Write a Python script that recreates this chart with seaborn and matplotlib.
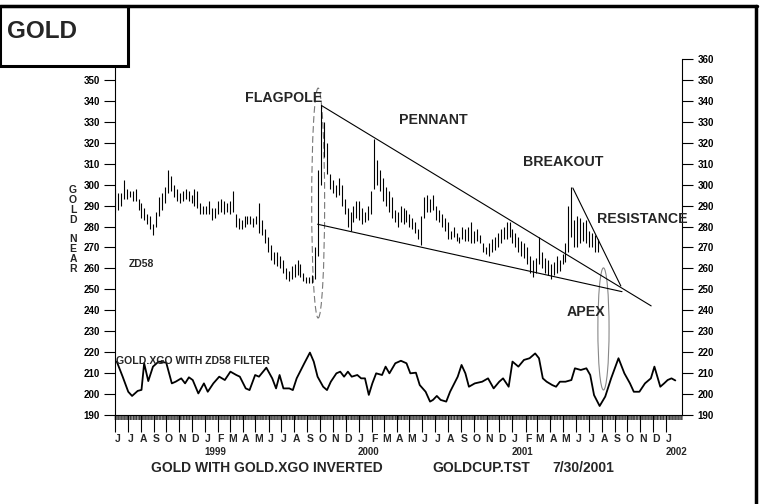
import numpy as np
import pandas as pd
import matplotlib
matplotlib.use("Agg")
import matplotlib.pyplot as plt
import matplotlib.patches as patches
import matplotlib.transforms as mtransforms
from matplotlib.lines import Line2D
import seaborn as sns

base = pd.Timestamp("1998-06-01")

# weekly high / low of gold near futures, week 0 = week of 1 June 1998
gold_high = [298, 296, 296, 302, 298, 297, 297, 298, 293, 291,
             289, 286, 285, 281, 287, 294, 296, 299, 307, 304,
             300, 298, 296, 297, 298, 297, 295, 298, 297, 291,
             290, 290, 292, 289, 289, 292, 293, 292, 291, 292,
             297, 286, 284, 283, 285, 285, 285, 284, 285, 291,
             283, 279, 275, 271, 268, 268, 266, 264, 260, 259,
             261, 262, 264, 262, 258, 256, 256, 257, 270, 307,
             338, 330, 320, 305, 302, 300, 303, 300, 293, 289,
             287, 290, 292, 292, 289, 287, 290, 297, 322, 312,
             307, 303, 299, 297, 294, 288, 287, 290, 289, 288,
             286, 284, 282, 279, 285, 294, 295, 293, 295, 290,
             288, 286, 284, 282, 278, 280, 277, 275, 280, 279,
             280, 282, 278, 279, 276, 272, 270, 272, 274, 275,
             277, 279, 280, 282, 282, 279, 277, 275, 273, 272,
             270, 266, 264, 265, 275, 268, 265, 264, 262, 263,
             266, 264, 267, 272, 290, 299, 283, 285, 284, 282,
             283, 278, 277, 276, 274]
gold_low = [287, 288, 290, 293, 293, 294, 292, 292, 288, 284,
            283, 281, 279, 276, 280, 285, 288, 291, 296, 297,
            294, 292, 291, 292, 293, 292, 291, 290, 289, 286,
            286, 286, 286, 283, 284, 286, 287, 286, 287, 286,
            287, 280, 279, 279, 280, 281, 281, 280, 281, 277,
            276, 272, 268, 264, 262, 261, 260, 258, 255, 254,
            255, 256, 257, 256, 254, 253, 253, 253, 255, 266,
            300, 313, 305, 298, 296, 294, 295, 290, 286, 280,
            278, 282, 284, 283, 281, 282, 283, 286, 298, 300,
            297, 292, 290, 287, 284, 282, 280, 282, 281, 282,
            280, 279, 277, 274, 271, 284, 287, 287, 288, 283,
            282, 280, 278, 274, 274, 275, 273, 272, 274, 273,
            273, 272, 272, 273, 272, 268, 267, 266, 268, 269,
            270, 272, 274, 274, 275, 272, 270, 268, 266, 265,
            262, 258, 256, 258, 262, 260, 258, 257, 255, 257,
            258, 259, 262, 263, 268, 275, 270, 270, 272, 273,
            272, 270, 270, 268, 268]

# GOLD.XGO with ZD58 filter (weeks since 1 June 1998, value)
osc_week = [0.6, 2.6, 4.5, 5.8, 7.7, 9.0, 9.9, 11.3, 12.9, 14.8, 17.4, 19.3, 20.6,
            22.5, 23.8, 25.1, 26.4, 28.3, 30.2, 31.5, 33.4, 35.4, 37.3, 39.2, 41.2,
            42.4, 44.4, 45.7, 47.6, 48.9, 51.4, 53.4, 54.7, 55.9, 57.2, 59.2, 60.4,
            61.7, 64.3, 66.2, 67.5, 68.8, 70.7, 72.0, 73.3, 75.2, 76.5, 77.8, 79.1,
            80.4, 82.3, 83.6, 84.9, 86.2, 87.4, 88.7, 90.7, 91.9, 93.2, 95.2, 97.1,
            99.0, 100.3, 102.2, 103.5, 105.5, 107.0, 108.0, 109.3, 110.6, 112.5,
            113.8, 116.4, 117.7, 119.0, 120.2, 122.2, 124.7, 126.7, 128.6, 130.5,
            131.8, 133.7, 135.0, 137.0, 138.9, 140.8, 142.7, 144.0, 145.3, 146.6,
            148.5, 149.8, 151.1, 153.0, 155.0, 156.2, 158.2, 160.1, 161.4, 162.7,
            164.6, 166.5, 168.5, 171.0, 173.0, 174.9, 176.2, 178.1, 180.0, 182.0,
            183.2, 185.2, 186.5, 187.7, 189.0, 190.3]
osc_val = [215.5, 208.3, 201.1, 199.1, 201.5, 202.0, 214.7, 206.2, 213.1, 215.5, 215.0,
           205.1, 205.9, 207.5, 205.1, 208.0, 206.7, 200.3, 205.1, 201.1, 205.1, 208.3,
           206.7, 210.7, 209.1, 208.3, 202.7, 201.9, 209.1, 208.3, 212.6, 207.5, 202.7,
           209.1, 202.7, 202.7, 201.9, 207.5, 214.7, 219.8, 215.5, 208.3, 203.5, 201.9,
           205.9, 209.9, 210.7, 208.3, 210.7, 208.3, 209.1, 207.5, 207.5, 199.6, 205.1,
           209.9, 209.1, 213.1, 209.9, 214.7, 215.9, 214.7, 209.9, 210.2, 204.3, 201.1,
           196.4, 197.2, 199.1, 197.2, 196.4, 201.1, 208.3, 213.9, 209.9, 203.5, 205.1,
           205.9, 207.5, 202.7, 205.9, 207.5, 203.5, 215.5, 213.1, 216.3, 217.1, 219.4,
           217.1, 207.5, 205.9, 204.3, 203.5, 205.9, 205.9, 206.7, 212.3, 211.5, 212.3,
           209.1, 199.5, 194.3, 198.8, 207.5, 217.1, 209.9, 205.1, 201.1, 201.1, 205.1,
           207.5, 213.1, 203.5, 205.1, 206.7, 207.5, 206.5]

# trend lines: (weeks, prices)
upper_wk, upper_px = [70.1, 182.1], [337.8, 242.1]
lower_wk, lower_px = [68.8, 172.2], [281.1, 248.9]
resist_wk, resist_px = [155.5, 171.8], [298.4, 251.6]

month_letters = ["J", "F", "M", "A", "M", "J", "J", "A", "S", "O", "N", "D"]
years = [1999, 2000, 2001, 2002]


def wk(d):
    return (pd.Timestamp(d) - base).days / 7


def fx(x):
    return x / 760


def fy(y):
    return 1 - y / 504


sns.set_style("ticks")
plt.rcParams['font.family'] = ['Liberation Sans', 'DejaVu Sans']
plt.rcParams['font.weight'] = 'bold'

fig = plt.figure(figsize=(7.6, 5.04), dpi=100)
ax = fig.add_axes([fx(115), fy(415), fx(682) - fx(115), fy(59) - fy(415)])

# price bars
ax.vlines(np.arange(len(gold_high)), gold_low, gold_high, color='black', lw=0.8)

# oscillator
osc = pd.DataFrame({"week": osc_week, "val": osc_val})
sns.lineplot(data=osc, x="week", y="val", color='black', lw=1.3, ax=ax)

# pennant and resistance lines
ax.plot(upper_wk, upper_px, color='black', lw=0.8)
ax.plot(lower_wk, lower_px, color='black', lw=0.8)
ax.plot(resist_wk, resist_px, color='black', lw=0.8)

# ellipses
ax.add_patch(patches.Ellipse((69.0, 291.2), 4.4, 109.8, fill=False, ec='#777777',
                             lw=0.8, ls=(0, (6, 3))))
ax.add_patch(patches.Ellipse((165.9, 231.1), 3.8, 58.3, fill=False, ec='#888888', lw=0.8))

ax.set_xlim(0, 190.3)
ax.set_ylim(190, 360)
ax.set_xlabel("")
ax.set_ylabel("")
ax.set_yticks(range(190, 361, 10))
ax.tick_params(axis='y', which='major', direction='out', length=8, width=0.8,
               labelsize=7, left=True, right=True, labelleft=True, labelright=True,
               pad=3, colors='black')

months = pd.date_range("1998-06-01", "2002-01-01", freq="MS")
ax.set_xticks([wk(d) for d in months])
ax.set_xticks([wk(d) for d in pd.bdate_range("1998-06-01", "2002-02-08")], minor=True)
ax.tick_params(axis='x', which='major', direction='out', length=12, width=0.8,
               labelbottom=False, colors='black')
ax.tick_params(axis='x', which='minor', direction='out', length=3.6, width=0.35,
               colors='black')

blend = mtransforms.blended_transform_factory(ax.transData, ax.transAxes)
for d in months:
    ax.text(wk(d) + 0.9, -0.067, month_letters[d.month - 1], transform=blend,
            ha='center', va='center', fontsize=7.5)
for y in years:
    ax.text(wk(f"{y}-01-01") + 3.5, -0.104, str(y), transform=blend,
            ha='center', va='center', fontsize=7)

for side in ['left', 'right', 'bottom']:
    ax.spines[side].set_color('black')
    ax.spines[side].set_linewidth(0.8)
ax.spines['top'].set_visible(False)

# annotations
ax.text(44.0, 341.6, "FLAGPOLE", fontsize=10.2, va='center')
ax.text(96.5, 330.9, "PENNANT", fontsize=10.2, va='center')
ax.text(138.5, 311.0, "BREAKOUT", fontsize=10.2, va='center')
ax.text(163.7, 283.6, "RESISTANCE", fontsize=10.2, va='center', clip_on=False)
ax.text(153.4, 239.4, "APEX", fontsize=10.2, va='center')
ax.text(4.7, 262.1, "ZD58", fontsize=7.5, va='center')
ax.text(0.3, 215.8, "GOLD.XGO WITH ZD58 FILTER", fontsize=7.6, va='center')

fig.text(fx(73), fy(229.5), "G\nO\nL\nD\n\nN\nE\nA\nR", fontsize=7.5,
         ha='center', va='center', linespacing=0.98)

fig.text(fx(151), fy(468), "GOLD WITH GOLD.XGO INVERTED", fontsize=10, va='center')
fig.text(fx(432), fy(468), "GOLDCUP.TST", fontsize=10, va='center')
fig.text(fx(552), fy(468), "7/30/2001", fontsize=10, va='center')

# title box and frame
box = patches.Rectangle((fx(0), fy(66)), fx(128), fy(6) - fy(66), transform=fig.transFigure,
                        facecolor='white', edgecolor='black', lw=2.2, zorder=5)
fig.add_artist(box)
fig.text(fx(7), fy(31), "GOLD", fontsize=17.5, va='center', zorder=6)
fig.add_artist(Line2D([fx(0), fx(757)], [fy(6), fy(6)], color='black', lw=2.5,
                      transform=fig.transFigure, zorder=6))
fig.add_artist(Line2D([fx(756), fx(756)], [fy(6), fy(504)], color='black', lw=2.5,
                      transform=fig.transFigure, zorder=6))

fig.savefig("out.png", dpi=100)
